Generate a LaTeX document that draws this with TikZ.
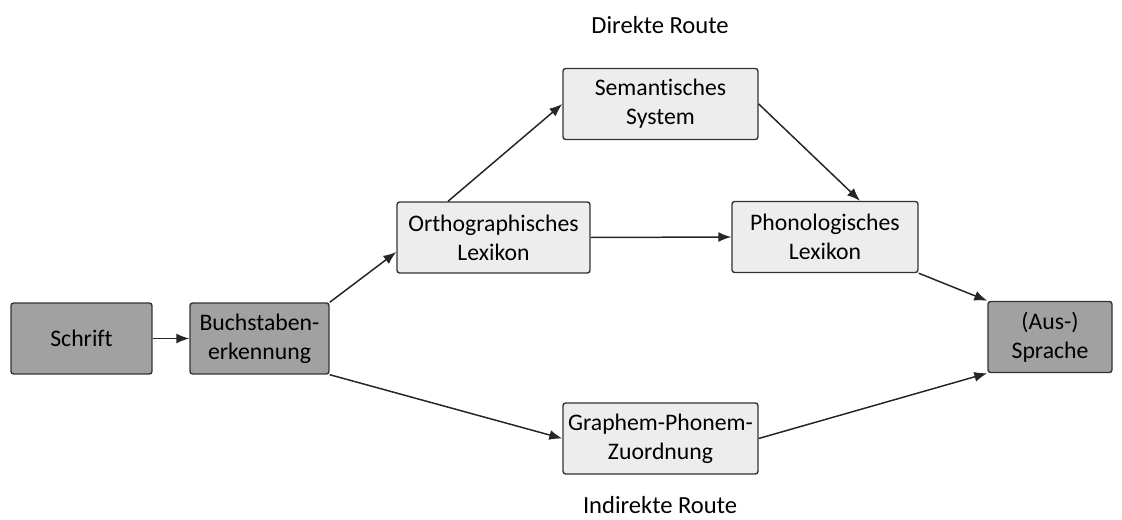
\documentclass[tikz,border=0pt]{standalone}
\usepackage{fontspec}
\setmainfont{Carlito}[Ligatures=NoCommon]
\usetikzlibrary{arrows.meta, positioning}
\definecolor{boxdark}{gray}{0.63}
\definecolor{boxlight}{gray}{0.93}

\begin{document}
\begin{tikzpicture}[x=0.02cm, y=-0.02cm,
    box/.style={draw=black!80, line width=0.8pt, rounded corners=1.5pt, align=center,
      inner sep=0pt, minimum height=1.42cm, font=\fontsize{13.5}{16.5}\selectfont},
    darkbox/.style={box, fill=boxdark},
    lightbox/.style={box, fill=boxlight},
    routelabel/.style={font=\fontsize{14}{16}\selectfont},
    arr/.style={-{Latex[length=2.6mm, width=2mm]}, line width=0.85pt, draw=black!85}]
    \useasboundingbox (0,0) rectangle (1122,520);

    % reading chain
    \node [darkbox, minimum width=2.82cm] (schrift) at (81.5,338.5) {Schrift};
    \node [darkbox, minimum width=2.78cm] (buchst) at (259.5,338.5) {Buchstaben-\\erkennung};
    \node [darkbox, minimum width=2.48cm] (sprache) at (1050,337) {(Aus-)\\Sprache};

    % lexical route
    \node [lightbox, minimum width=3.86cm] (ortho) at (493.5,237.5) {Orthographisches\\Lexikon};
    \node [lightbox, minimum width=3.90cm] (sem) at (660.5,104) {Semantisches\\System};
    \node [lightbox, minimum width=3.72cm] (phono) at (825,237) {Phonologisches\\Lexikon};

    % sublexical route
    \node [lightbox, minimum width=3.90cm] (gpk) at (660.5,438.5) {Graphem-Phonem-\\Zuordnung};

    \node [routelabel] (direkt) at (660,25) {Direkte Route};
    \node [routelabel] (indirekt) at (660,505) {Indirekte Route};

    \draw [arr] (schrift.east) -- (buchst.west);
    \draw [arr] (buchst.north east) -- ([yshift=-0.29cm]ortho.west);
    \draw [arr] (buchst.south east) -- (gpk.west);
    \draw [arr] ([xshift=-0.91cm]ortho.north) -- (sem.west);
    \draw [arr] (ortho.east) -- (phono.west);
    \draw [arr] (sem.east) -- ([xshift=0.7cm]phono.north);
    \draw [arr] (phono.south east) -- (sprache.north west);
    \draw [arr] (gpk.east) -- (sprache.south west);
\end{tikzpicture}
\end{document}
